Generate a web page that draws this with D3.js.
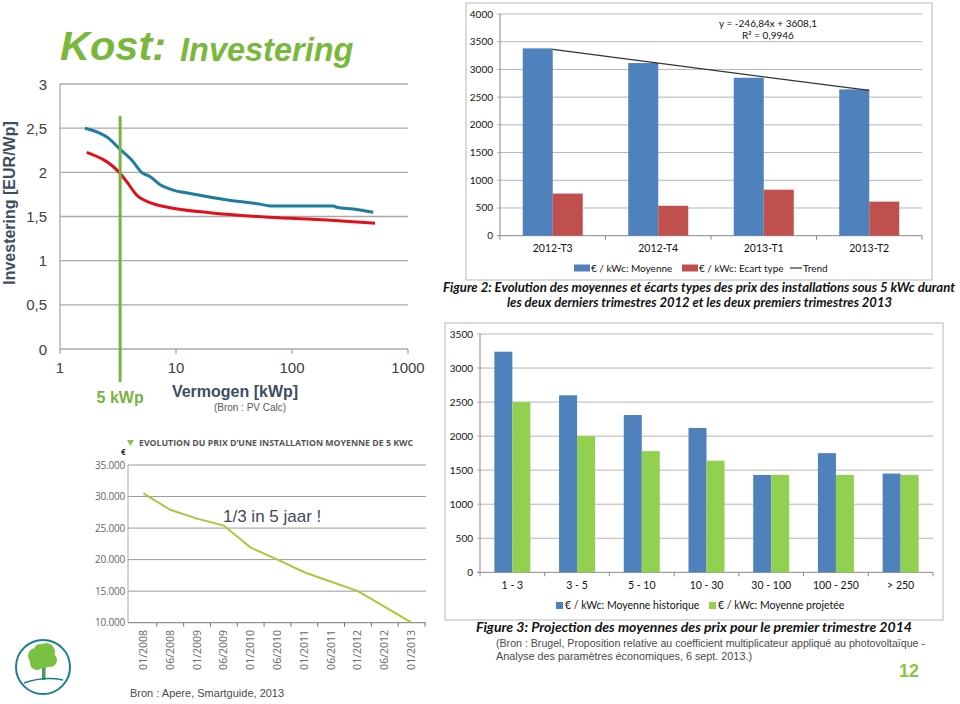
<!DOCTYPE html>
<html><head><meta charset="utf-8">
<script src="https://cdn.jsdelivr.net/npm/d3@7"></script>
<style>body{margin:0;background:#fff}svg{display:block}</style>
</head><body><svg id="c" width="960" height="704"></svg>
<script>
// ---------- DATA ----------
// Chart 1: investment cost vs installed power (PV Calc)
const kwpBlue = [1.64, 2.6, 3.3, 4.15, 5.05, 6.0, 7.3, 8.9, 14, 27, 53, 65, 227, 243, 337, 502];
const invBlue = [2.50, 2.39, 2.26, 2.14, 2.0, 1.95, 1.86, 1.81, 1.755, 1.69, 1.64, 1.62, 1.62, 1.605, 1.585, 1.548];
const kwpRed = [1.70, 3.29, 3.76, 4.58, 5.97, 8.88, 19.6, 64.6, 199, 520];
const invRed = [2.227, 1.989, 1.894, 1.743, 1.656, 1.60, 1.543, 1.491, 1.46, 1.423];
const kwpMarker = 3.3;
const invTicks = [0, 0.5, 1, 1.5, 2, 2.5, 3];
const kwpTicks = [1, 10, 100, 1000];

// Chart 2: Figure 2
const quarters = ['2012-T3', '2012-T4', '2013-T1', '2013-T2'];
const moyenne = [3380, 3115, 2850, 2640];
const ecartType = [760, 540, 830, 615];
const trendSlope = -246.84, trendIntercept = 3608.1;
const fig2Ticks = [0, 500, 1000, 1500, 2000, 2500, 3000, 3500, 4000];

// Chart 3: Figure 3
const ranges = ['1 - 3', '3 - 5', '5 - 10', '10 - 30', '30 - 100', '100 - 250', '> 250'];
const moyHistorique = [3240, 2600, 2310, 2120, 1430, 1750, 1450];
const moyProjetee = [2500, 2000, 1780, 1640, 1430, 1430, 1430];
const fig3Ticks = [0, 500, 1000, 1500, 2000, 2500, 3000, 3500];

// Chart 4: price of an average 5 kWc installation
const months = ['01/2008', '06/2008', '01/2009', '06/2009', '01/2010', '06/2010', '01/2011', '06/2011', '01/2012', '06/2012', '01/2013'];
const prix5kwc = [30500, 27900, 26500, 25400, 21900, 20000, 18000, 16500, 15000, 12500, 10000];
const prixTicks = [10000, 15000, 20000, 25000, 30000, 35000];

// ---------- DRAW ----------
const svg = d3.select('#c');
svg.append('rect').attr('width', 960).attr('height', 704).attr('fill', '#fff');
const green = '#78b83a';
const fmtComma = d => String(d).replace('.', ',');

// ===== Chart 1 =====
{
  const g = svg.append('g');
  const x = d3.scaleLog().domain([1, 1000]).range([60, 408]);
  const y = d3.scaleLinear().domain([0, 3]).range([349, 84]);
  const t = g.append('text').attr('x', 60).attr('y', 60).attr('fill', green)
    .attr('font-family', 'Liberation Sans, Arial, sans-serif').attr('font-weight', 'bold').attr('font-style', 'italic');
  t.append('tspan').attr('font-size', 41.5).text('Kost:');
  t.append('tspan').attr('x', 180).attr('y', 61).attr('font-size', 32.5).text('Investering');

  g.selectAll('.gl').data(invTicks).join('line')
    .attr('x1', x(1)).attr('x2', x(1000)).attr('y1', d => y(d)).attr('y2', d => y(d))
    .attr('stroke', '#a9a9a9').attr('stroke-width', 1.3);
  g.append('line').attr('x1', x(1)).attr('x2', x(1)).attr('y1', y(3)).attr('y2', y(0))
    .attr('stroke', '#a9a9a9').attr('stroke-width', 1.3);
  g.selectAll('.tk').data(kwpTicks).join('line')
    .attr('x1', d => x(d)).attr('x2', d => x(d)).attr('y1', y(0)).attr('y2', y(0) + 5)
    .attr('stroke', '#a9a9a9').attr('stroke-width', 1.3);
  g.selectAll('.yl').data(invTicks).join('text')
    .attr('x', 47).attr('y', d => y(d) + 5.5).attr('text-anchor', 'end')
    .attr('font-family', 'Liberation Sans, Arial, sans-serif').attr('font-size', 15).attr('fill', '#404040')
    .text(fmtComma);
  g.selectAll('.xl').data(kwpTicks).join('text')
    .attr('x', d => x(d)).attr('y', 373).attr('text-anchor', 'middle')
    .attr('font-family', 'Liberation Sans, Arial, sans-serif').attr('font-size', 15).attr('fill', '#404040')
    .text(d => d);

  const line = d3.line().x(d => x(d[0])).y(d => y(d[1])).curve(d3.curveMonotoneX);
  g.append('path').attr('d', line(d3.zip(kwpRed, invRed))).attr('fill', 'none')
    .attr('stroke', '#e0101a').attr('stroke-width', 3);
  g.append('path').attr('d', line(d3.zip(kwpBlue, invBlue))).attr('fill', 'none')
    .attr('stroke', '#1d7d9e').attr('stroke-width', 3);

  g.append('line').attr('x1', x(kwpMarker)).attr('x2', x(kwpMarker)).attr('y1', 116).attr('y2', 382)
    .attr('stroke', '#79b343').attr('stroke-width', 3);
  g.append('text').attr('x', x(kwpMarker)).attr('y', 403).attr('text-anchor', 'middle')
    .attr('font-family', 'Liberation Sans, Arial, sans-serif').attr('font-weight', 'bold').attr('font-size', 16)
    .attr('fill', '#79b343').text('5 kWp');

  g.append('text').attr('transform', 'translate(15,203) rotate(-90)').attr('text-anchor', 'middle')
    .attr('font-family', 'Liberation Sans, Arial, sans-serif').attr('font-weight', 'bold').attr('font-size', 16)
    .attr('fill', '#3d4e60').text('Investering [EUR/Wp]');
  g.append('text').attr('x', 235).attr('y', 397).attr('text-anchor', 'middle')
    .attr('font-family', 'Liberation Sans, Arial, sans-serif').attr('font-weight', 'bold').attr('font-size', 16)
    .attr('fill', '#3d4e60').text('Vermogen [kWp]');
  g.append('text').attr('x', 250).attr('y', 411).attr('text-anchor', 'middle')
    .attr('font-family', 'Liberation Sans, Arial, sans-serif').attr('font-size', 10)
    .attr('fill', '#5a5a5a').text('(Bron : PV Calc)');
}

// ===== Chart 2 =====
{
  const g = svg.append('g');
  const F = 'Lato, "Open Sans", sans-serif';
  g.append('rect').attr('x', 466).attr('y', 3).attr('width', 466).attr('height', 277)
    .attr('fill', '#fff').attr('stroke', '#c4c4c4').attr('stroke-width', 1.2);
  const x = d3.scaleBand().domain(quarters).range([500, 922]);
  const xs = d3.scaleBand().domain(['m', 'e']).range([0, x.bandwidth()]).paddingOuter(0.758);
  const y = d3.scaleLinear().domain([0, 4000]).range([235.7, 14]);
  g.selectAll('.gl').data(fig2Ticks).join('line')
    .attr('x1', 497).attr('x2', 922).attr('y1', d => y(d)).attr('y2', d => y(d))
    .attr('stroke', d => d === 0 ? '#888' : '#b5b5b5').attr('stroke-width', 1);
  g.append('line').attr('x1', 500).attr('x2', 500).attr('y1', y(4000)).attr('y2', y(0)).attr('stroke', '#888');
  g.selectAll('.tk').data(d3.range(quarters.length + 1)).join('line')
    .attr('x1', i => 500 + i * x.step()).attr('x2', i => 500 + i * x.step())
    .attr('y1', y(0)).attr('y2', y(0) + 4).attr('stroke', '#888');
  g.selectAll('.yl').data(fig2Ticks).join('text')
    .attr('x', 493).attr('y', d => y(d) + 3.5).attr('text-anchor', 'end')
    .attr('font-family', F).attr('font-size', 10).attr('fill', '#111').text(d => d);
  g.selectAll('.xl').data(quarters).join('text')
    .attr('x', d => x(d) + x.bandwidth() / 2).attr('y', 252).attr('text-anchor', 'middle')
    .attr('font-family', F).attr('font-size', 10.5).attr('fill', '#111').text(d => d);
  g.selectAll('.bm').data(quarters).join('rect')
    .attr('x', d => x(d) + xs('m')).attr('width', xs.bandwidth())
    .attr('y', (d, i) => y(moyenne[i])).attr('height', (d, i) => y(0) - y(moyenne[i]))
    .attr('fill', '#4f81bd');
  g.selectAll('.be').data(quarters).join('rect')
    .attr('x', d => x(d) + xs('e')).attr('width', xs.bandwidth())
    .attr('y', (d, i) => y(ecartType[i])).attr('height', (d, i) => y(0) - y(ecartType[i]))
    .attr('fill', '#c0504d');
  const tx = i => x(quarters[i]) + x.bandwidth() / 2;
  g.append('line').attr('x1', tx(0)).attr('y1', y(trendSlope * 1 + trendIntercept))
    .attr('x2', tx(3)).attr('y2', y(trendSlope * 4 + trendIntercept))
    .attr('stroke', '#333').attr('stroke-width', 1.2);
  g.append('text').attr('x', 768).attr('y', 27).attr('text-anchor', 'middle')
    .attr('font-family', F).attr('font-size', 10).attr('fill', '#111').text('y = -246,84x + 3608,1');
  g.append('text').attr('x', 768).attr('y', 38.5).attr('text-anchor', 'middle')
    .attr('font-family', F).attr('font-size', 10).attr('fill', '#111').text('R² = 0,9946');
  const lg = g.append('g').attr('font-family', F).attr('font-size', 10).attr('fill', '#111');
  lg.append('rect').attr('x', 574).attr('y', 264.5).attr('width', 16).attr('height', 7).attr('fill', '#4f81bd');
  lg.append('text').attr('x', 591).attr('y', 271.5).text('€ / kWc: Moyenne');
  lg.append('rect').attr('x', 682).attr('y', 264.5).attr('width', 16).attr('height', 7).attr('fill', '#c0504d');
  lg.append('text').attr('x', 699).attr('y', 271.5).text('€ / kWc: Ecart type');
  lg.append('line').attr('x1', 790).attr('x2', 802).attr('y1', 268).attr('y2', 268).attr('stroke', '#333').attr('stroke-width', 1.2);
  lg.append('text').attr('x', 803).attr('y', 271.5).text('Trend');
  const cap = g.append('g').attr('font-family', F).attr('font-weight', 'bold').attr('font-style', 'italic')
    .attr('font-size', 13).attr('fill', '#111');
  cap.append('text').attr('x', 443).attr('y', 292).attr('textLength', 512).attr('lengthAdjust', 'spacingAndGlyphs')
    .text('Figure 2: Evolution des moyennes et écarts types des prix des installations sous 5 kWc durant');
  cap.append('text').attr('x', 507).attr('y', 306.5).attr('textLength', 385).attr('lengthAdjust', 'spacingAndGlyphs')
    .text('les deux derniers trimestres 2012 et les deux premiers trimestres 2013');
}

// ===== Chart 3 =====
{
  const g = svg.append('g');
  const F = 'Lato, "Open Sans", sans-serif';
  g.append('rect').attr('x', 445).attr('y', 323).attr('width', 498).attr('height', 297)
    .attr('fill', '#fff').attr('stroke', '#c4c4c4').attr('stroke-width', 1.2);
  const x = d3.scaleBand().domain(ranges).range([480, 933]);
  const xs = d3.scaleBand().domain(['h', 'p']).range([0, x.bandwidth()]).paddingOuter(0.797);
  const y = d3.scaleLinear().domain([0, 3500]).range([572.3, 334]);
  g.selectAll('.gl').data(fig3Ticks).join('line')
    .attr('x1', 477).attr('x2', 933).attr('y1', d => y(d)).attr('y2', d => y(d))
    .attr('stroke', d => d === 0 ? '#888' : '#b5b5b5').attr('stroke-width', 1);
  g.append('line').attr('x1', 480).attr('x2', 480).attr('y1', y(3500)).attr('y2', y(0)).attr('stroke', '#888');
  g.selectAll('.tk').data(d3.range(ranges.length + 1)).join('line')
    .attr('x1', i => 480 + i * x.step()).attr('x2', i => 480 + i * x.step())
    .attr('y1', y(0)).attr('y2', y(0) + 4).attr('stroke', '#888');
  g.selectAll('.yl').data(fig3Ticks).join('text')
    .attr('x', 473).attr('y', d => y(d) + 3.5).attr('text-anchor', 'end')
    .attr('font-family', F).attr('font-size', 10).attr('fill', '#111').text(d => d);
  g.selectAll('.xl').data(ranges).join('text')
    .attr('x', d => x(d) + x.bandwidth() / 2).attr('y', 589).attr('text-anchor', 'middle')
    .attr('font-family', F).attr('font-size', 10.5).attr('fill', '#111').text(d => d);
  g.selectAll('.bh').data(ranges).join('rect')
    .attr('x', d => x(d) + xs('h')).attr('width', xs.bandwidth())
    .attr('y', (d, i) => y(moyHistorique[i])).attr('height', (d, i) => y(0) - y(moyHistorique[i]))
    .attr('fill', '#4f81bd');
  g.selectAll('.bp').data(ranges).join('rect')
    .attr('x', d => x(d) + xs('p')).attr('width', xs.bandwidth())
    .attr('y', (d, i) => y(moyProjetee[i])).attr('height', (d, i) => y(0) - y(moyProjetee[i]))
    .attr('fill', '#92d050');
  const lg = g.append('g').attr('font-family', F).attr('font-size', 10.5).attr('fill', '#111');
  lg.append('rect').attr('x', 556).attr('y', 602).attr('width', 7).attr('height', 7).attr('fill', '#4f81bd');
  lg.append('text').attr('x', 565).attr('y', 609).text('€ / kWc: Moyenne historique');
  lg.append('rect').attr('x', 709).attr('y', 602).attr('width', 7).attr('height', 7).attr('fill', '#92d050');
  lg.append('text').attr('x', 718).attr('y', 609).text('€ / kWc: Moyenne projetée');
  g.append('text').attr('x', 476).attr('y', 632).attr('textLength', 436).attr('lengthAdjust', 'spacingAndGlyphs')
    .attr('font-family', F).attr('font-weight', 'bold').attr('font-style', 'italic').attr('font-size', 13.5)
    .attr('fill', '#111').text('Figure 3: Projection des moyennes des prix pour le premier trimestre 2014');
  const src = g.append('g').attr('font-family', 'Liberation Sans, Arial, sans-serif').attr('font-size', 11).attr('fill', '#4a4a4a');
  src.append('text').attr('x', 496).attr('y', 647).attr('textLength', 429).attr('lengthAdjust', 'spacingAndGlyphs')
    .text('(Bron : Brugel, Proposition relative au coefficient multiplicateur appliqué au photovoltaïque -');
  src.append('text').attr('x', 496).attr('y', 659.5).attr('textLength', 256).attr('lengthAdjust', 'spacingAndGlyphs')
    .text('Analyse des paramètres économiques, 6 sept. 2013.)');
  g.append('text').attr('x', 909).attr('y', 677).attr('text-anchor', 'middle')
    .attr('font-family', 'Liberation Sans, Arial, sans-serif').attr('font-weight', 'bold').attr('font-size', 18)
    .attr('fill', '#8cc63f').text('12');
}

// ===== Chart 4 =====
{
  const g = svg.append('g');
  const F = '"Open Sans", Lato, sans-serif';
  const x = d3.scaleBand().domain(months).range([130, 425]);
  const y = d3.scaleLinear().domain([10000, 35000]).range([622.7, 465]);
  g.selectAll('.gl').data(prixTicks.slice(1)).join('line')
    .attr('x1', 128).attr('x2', 426).attr('y1', d => y(d)).attr('y2', d => y(d))
    .attr('stroke', '#9a9a9a').attr('stroke-width', 1);
  g.append('line').attr('x1', 128).attr('x2', 128).attr('y1', y(35000)).attr('y2', y(10000)).attr('stroke', '#aaa');
  g.append('line').attr('x1', 128).attr('x2', 426).attr('y1', y(10000)).attr('y2', y(10000)).attr('stroke', '#777');
  g.selectAll('.tk').data(months).join('line')
    .attr('x1', d => x(d) + x.bandwidth()).attr('x2', d => x(d) + x.bandwidth())
    .attr('y1', y(10000)).attr('y2', y(10000) + 4).attr('stroke', '#777');
  g.selectAll('.yl').data(prixTicks).join('text')
    .attr('x', 125).attr('y', d => y(d) + 3.5).attr('text-anchor', 'end')
    .attr('font-family', F).attr('font-size', 10).attr('letter-spacing', -0.2).attr('fill', '#666')
    .text(d => d3.format(',')(d).replace(',', '.'));
  g.selectAll('.xl').data(months).join('text')
    .attr('transform', d => `translate(${x(d) + x.bandwidth() / 2 + 3.5},630) rotate(-90)`)
    .attr('text-anchor', 'end').attr('font-family', F).attr('font-size', 10.5).attr('fill', '#666')
    .text(d => d);
  const line = d3.line().x((d, i) => x(months[i]) + x.bandwidth() / 2).y(d => y(d));
  g.append('path').attr('d', line(prix5kwc)).attr('fill', 'none').attr('stroke', '#a9c83c').attr('stroke-width', 2);
  g.append('path').attr('d', 'M127,440 L134,440 L130.5,446 Z').attr('fill', '#8cc63f');
  g.append('text').attr('x', 139).attr('y', 446).attr('textLength', 274).attr('lengthAdjust', 'spacingAndGlyphs')
    .attr('font-family', F).attr('font-weight', 'bold').attr('font-size', 9).attr('fill', '#555')
    .text('EVOLUTION DU PRIX D’UNE INSTALLATION MOYENNE DE 5 KWC');
  g.append('text').attr('x', 121).attr('y', 455).attr('font-family', F).attr('font-weight', 'bold')
    .attr('font-size', 8).attr('fill', '#333').text('€');
  g.append('text').attr('x', 223).attr('y', 522).attr('font-family', 'Liberation Sans, Arial, sans-serif')
    .attr('font-size', 17).attr('fill', '#3d4a5c').text('1/3 in 5 jaar !');
  g.append('text').attr('x', 130).attr('y', 697).attr('font-family', 'Liberation Sans, Arial, sans-serif')
    .attr('font-size', 11).attr('fill', '#4a4a4a').text('Bron : Apere, Smartguide, 2013');
  const lo = g.append('g');
  lo.append('circle').attr('cx', 43).attr('cy', 667).attr('r', 27).attr('fill', '#fff')
    .attr('stroke', '#1b7f8e').attr('stroke-width', 2);
  lo.append('rect').attr('x', 42).attr('y', 662).attr('width', 3.5).attr('height', 18).attr('fill', '#4a9a5a');
  [[36, 656, 8], [46, 652, 9], [50, 660, 7], [37, 663, 7], [44, 661, 7], [40, 650, 6]].forEach(c =>
    lo.append('circle').attr('cx', c[0]).attr('cy', c[1]).attr('r', c[2]).attr('fill', '#7ac143'));
  lo.append('path').attr('d', 'M24,683 Q44,676 63,680').attr('fill', 'none').attr('stroke', '#1b7f8e').attr('stroke-width', 1.6);
}
</script></body></html>
